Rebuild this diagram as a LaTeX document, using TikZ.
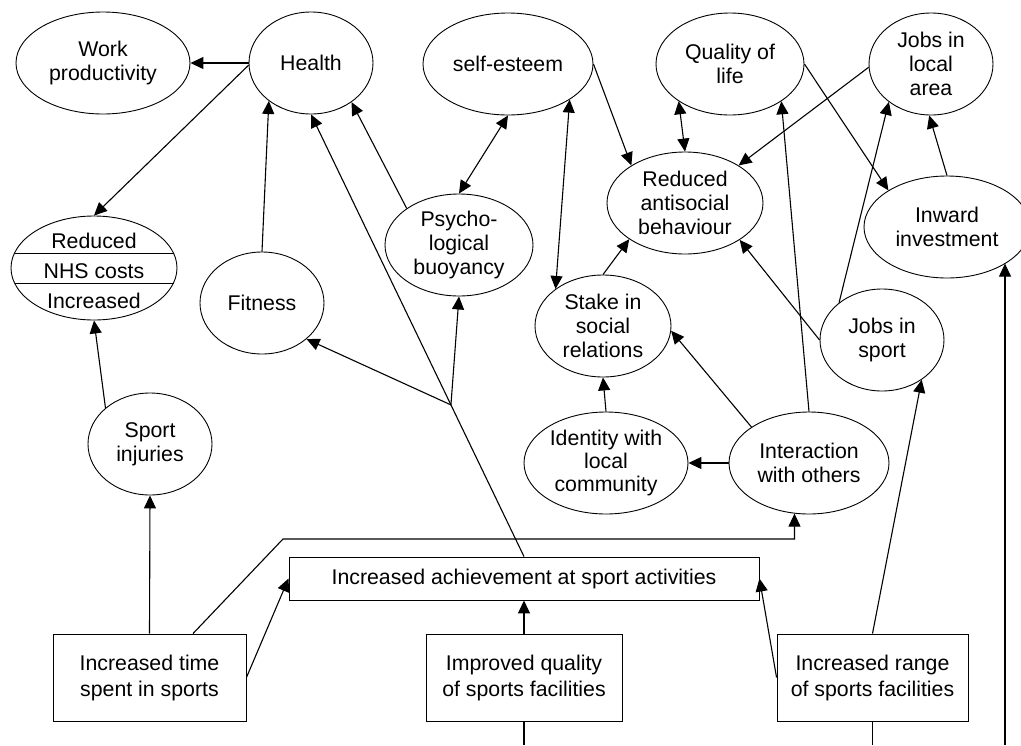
\documentclass[tikz,border=0pt]{standalone}
\usepackage{fontspec}
\setmainfont{Liberation Sans}
\usetikzlibrary{shapes.geometric,arrows.meta,calc}
\begin{document}
\begin{tikzpicture}[x=1pt,y=-1pt,
  txt/.style={font=\fontsize{21.3pt}{24pt}\selectfont},
  oval/.style={draw, ellipse, line width=0.9pt, inner sep=0pt, align=center, txt},
  rect/.style={draw, rectangle, line width=0.9pt, inner sep=0pt, align=center,
    font=\fontsize{21.3pt}{26pt}\selectfont},
  plainline/.style={line width=1.1pt},
  link/.style={plainline, -{Triangle[length=13pt,width=12pt]}},
  bilink/.style={plainline, {Triangle[length=13pt,width=12pt]}-{Triangle[length=13pt,width=12pt]}}
]
\fill[white] (0,0) rectangle (1021,745);
\useasboundingbox (0,0) rectangle (1021,745);
\clip (0,0) rectangle (1021,745);

% outcome ellipses
\node[oval, minimum width=174pt, minimum height=102pt] (wp) at (103,63) {Work\\productivity};
\node[oval, minimum width=124pt, minimum height=102pt] (health) at (311,63) {Health};
\node[oval, minimum width=170pt, minimum height=102pt] (selfest) at (508,64) {self-esteem};
\node[oval, minimum width=148pt, minimum height=102pt] (qol) at (730,64) {Quality of\\life};
\node[oval, minimum width=124pt, minimum height=102pt] (jla) at (931,64) {Jobs in\\local\\area};
\node[oval, minimum width=166pt, minimum height=104pt] (nhs) at (94,268) {};
\node[oval, minimum width=124pt, minimum height=102pt] (fit) at (262,303) {Fitness};
\node[oval, minimum width=148pt, minimum height=102pt] (psy) at (459,245) {Psycho-\\logical\\buoyancy};
\node[oval, minimum width=156pt, minimum height=102pt] (ras) at (685,203) {Reduced\\antisocial\\behaviour};
\node[oval, minimum width=166pt, minimum height=102pt] (inv) at (947,227) {Inward\\investment};
\node[oval, minimum width=136pt, minimum height=102pt] (stake) at (603,326) {Stake in\\social\\relations};
\node[oval, minimum width=124pt, minimum height=102pt] (jis) at (882,340) {Jobs in\\sport};
\node[oval, minimum width=124pt, minimum height=102pt] (inj) at (150,444) {Sport\\injuries};
\node[oval, minimum width=164pt, minimum height=102pt,
  font=\fontsize{21.3pt}{23pt}\selectfont] (ident) at (606,463) {Identity with\\local\\community};
\node[oval, minimum width=160pt, minimum height=102pt] (inter) at (809,463) {Interaction\\with others};

% split NHS costs ellipse
\draw[line width=0.9pt] ($(nhs.center)+(-79.5,-15)$) -- ++(159,0);
\draw[line width=0.9pt] ($(nhs.center)+(-79.5,15)$) -- ++(159,0);
\node[txt, anchor=base, inner sep=0pt] (nhsA) at (94,248) {Reduced};
\node[txt, anchor=base, inner sep=0pt] (nhsB) at (94,278) {NHS costs};
\node[txt, anchor=base, inner sep=0pt] (nhsC) at (94,308) {Increased};

% input boxes
\node[rect, minimum width=470pt, minimum height=43pt] (ach) at (524,578.5) {Increased achievement at sport activities};
\node[rect, minimum width=193pt, minimum height=87pt] (time) at (149.5,677.5) {Increased time\\spent in sports};
\node[rect, minimum width=196pt, minimum height=87pt] (qual) at (524,677.5) {Improved quality\\of sports facilities};
\node[rect, minimum width=191pt, minimum height=87pt] (range) at (872.5,677.5) {Increased range\\of sports facilities};

% free ends and bends
\coordinate (qualfoot) at (524,745);
\coordinate (rangefoot) at (872.5,745);
\coordinate (invfoot) at (1005,745);
\coordinate (bend) at (283,539);

% connectors
\draw[link] (health) -- (wp);
\draw[link] (health.182) -- (nhs.north);
\draw[link] (fit.north) -- (health.222);
\draw[link] (inj.141) -- (nhs.south);
\draw[link] (time.north) -- (inj.south);
\draw[link] ($(time.north)+(43.5,0)$) -- (bend) -| (inter.254);
\draw[link] (time.east) -- (ach.west);
\draw[link] (ach.north) -- coordinate[pos=0.343] (jn) (health.south);
\draw[link] (jn) -- (fit.321);
\draw[link] (jn) -- (psy.south);
\draw[link] (psy.145) -- (health.316);
\draw[bilink] (psy.north) -- (selfest.south);
\draw[bilink] (selfest.330) -- (stake.142);
\draw[link] (selfest.east) -- (ras.145);
\draw[bilink] (qol.216) -- (ras.north);
\draw[link] (jla.183) -- (ras.35);
\draw[link] (qol.east) -- (inv.148);
\draw[link] (inv.north) -- (jla.268);
\draw[link] (invfoot) -- (invfoot |- inv.328);
\draw[link] (jis.139) -- (jla.222);
\draw[link] (jis.west) -- (ras.326);
\draw[link] (inter.north) -- (qol.324);
\draw[link] (inter.148) -- (stake.356);
\draw[link] (inter) -- (ident);
\draw[link] (ident.north) -- (stake.south);
\draw[link] (stake.north) -- (ras.213);
\draw[link] (range.north) -- (jis.315);
\draw[link] (range.west) -- (ach.east);
\draw[link] (qual.north) -- (ach.south);
\draw[plainline] (qual.south) -- (qualfoot);
\draw[plainline] (range.south) -- (rangefoot);
\end{tikzpicture}
\end{document}
